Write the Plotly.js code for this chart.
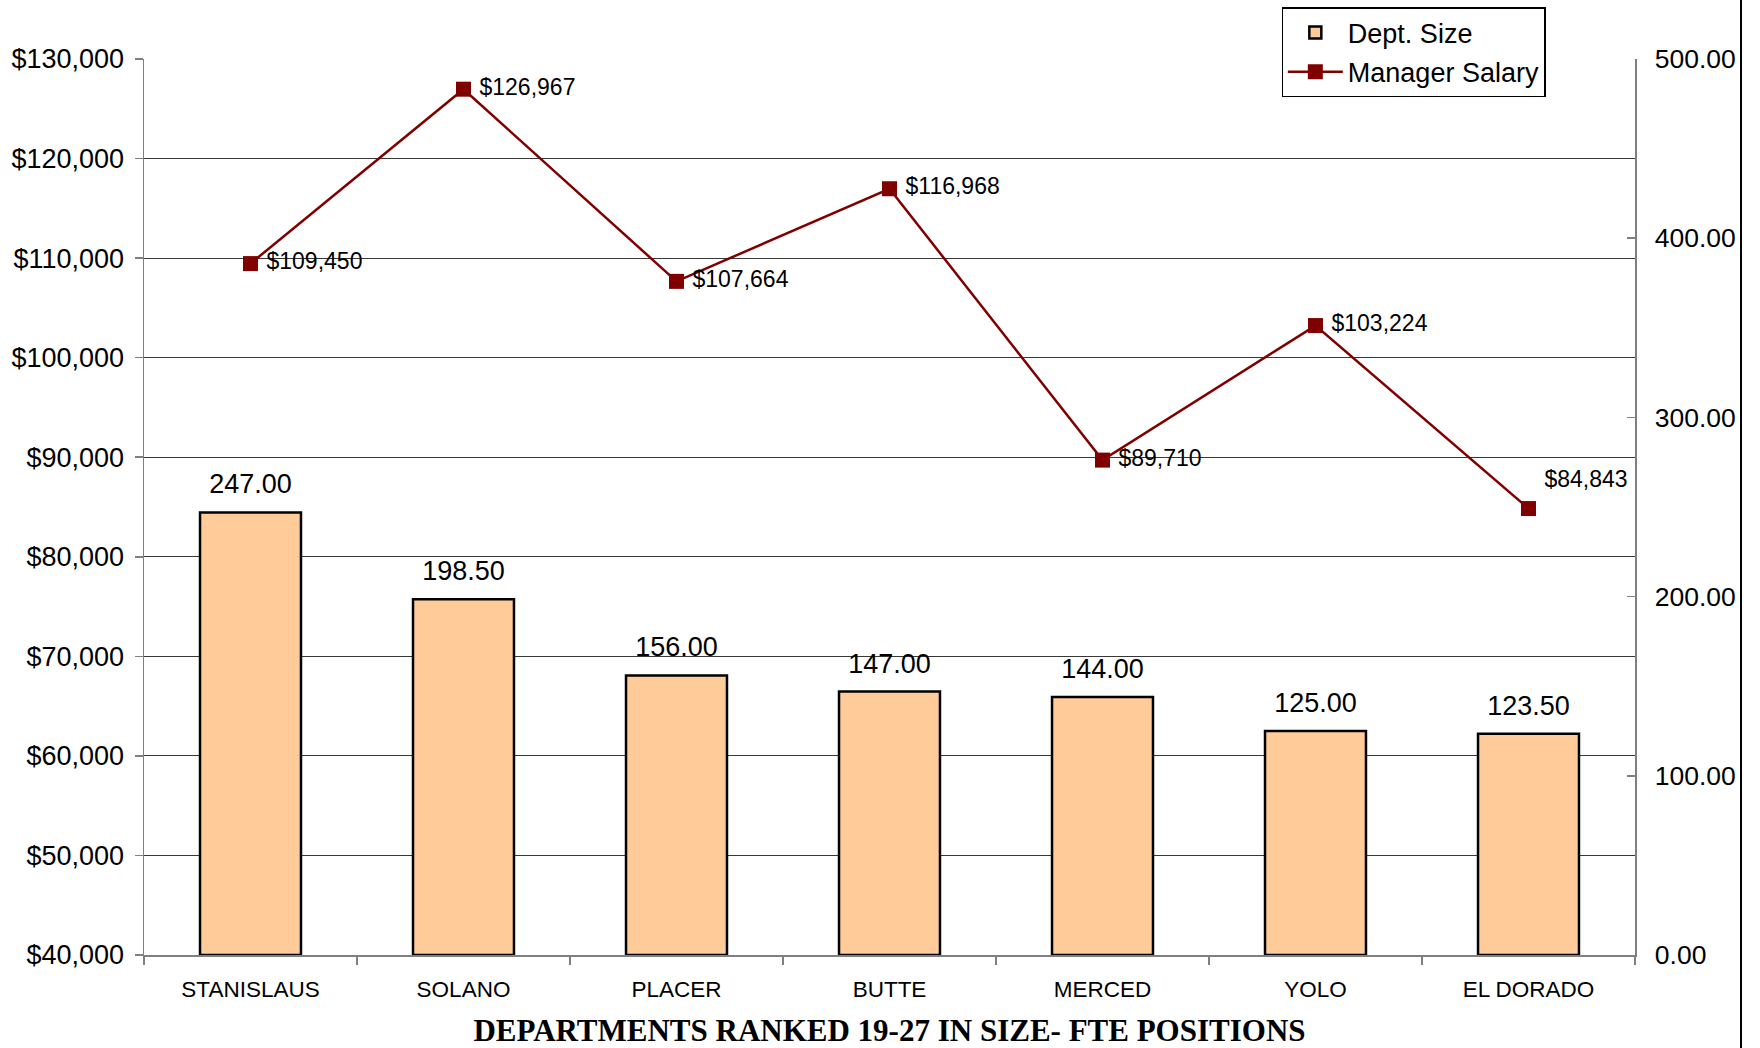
<!DOCTYPE html>
<html>
<head>
<meta charset="utf-8">
<script src="https://cdn.plot.ly/plotly-3.0.1.min.js"></script>
<style>html,body{margin:0;padding:0;background:#fff;}#chart{width:1760px;height:1048px;}</style>
</head>
<body>
<div id="chart"></div>
<script>
const categories = ["STANISLAUS", "SOLANO", "PLACER", "BUTTE", "MERCED", "YOLO", "EL DORADO"];
const deptSize = [247.00, 198.50, 156.00, 147.00, 144.00, 125.00, 123.50];
const managerSalary = [109450, 126967, 107664, 116968, 89710, 103224, 84843];
const salaryLabels = ["$109,450", "$126,967", "$107,664", "$116,968", "$89,710", "$103,224", "$84,843"];
const salaryTextPos = ["middle right", "middle right", "middle right", "middle right", "middle right", "middle right", "top right"];
const sizeLabels = deptSize.map(v => v.toFixed(2));

const font = "Liberation Sans, Arial, sans-serif";

const traces = [
  {
    type: "bar",
    name: "Dept. Size",
    legendgroup: "a",
    x: categories,
    y: deptSize,
    yaxis: "y2",
    marker: {color: "#FFCC99", line: {color: "#000", width: 2.5}},
    hoverinfo: "x+y"
  },
  {
    type: "scatter",
    mode: "markers+text",
    showlegend: false,
    x: categories,
    y: deptSize,
    yaxis: "y2",
    text: sizeLabels,
    textposition: "top center",
    textfont: {family: font, size: 27, color: "#000"},
    cliponaxis: false,
    marker: {color: "rgba(0,0,0,0)", size: 18},
    hoverinfo: "skip"
  },
  {
    type: "scatter",
    mode: "lines+markers",
    name: "Manager Salary",
    legendgroup: "b",
    x: categories,
    y: managerSalary,
    yaxis: "y",
    cliponaxis: false,
    line: {color: "#800000", width: 2.5},
    marker: {color: "#800000", symbol: "square", size: 15}
  },
  {
    type: "scatter",
    mode: "markers+text",
    showlegend: false,
    x: categories,
    y: managerSalary,
    yaxis: "y",
    text: salaryLabels,
    textposition: salaryTextPos,
    textfont: {family: font, size: 23, color: "#000"},
    cliponaxis: false,
    marker: {color: "rgba(0,0,0,0)", size: 24},
    hoverinfo: "skip"
  }
];

const layout = {
  width: 1760,
  height: 1048,
  paper_bgcolor: "#fff",
  plot_bgcolor: "#fff",
  margin: {l: 144, r: 125, t: 59, b: 93, pad: 0, autoexpand: false},
  font: {family: font, color: "#000"},
  bargap: 0.526,
  showlegend: true,
  legend: {
    x: 0.763, y: 1.0577, xanchor: "left", yanchor: "top",
    bgcolor: "#fff", bordercolor: "#000", borderwidth: 1.2,
    font: {family: font, size: 27, color: "#000"},
    traceorder: "grouped", tracegroupgap: 1,
    itemwidth: 55
  },
  xaxis: {
    type: "category",
    showgrid: false,
    showline: true, linecolor: "#808080", linewidth: 1.5,
    ticks: "outside", tickson: "boundaries", ticklen: 8, tickcolor: "#808080", tickwidth: 1.5,
    tickfont: {family: font, size: 22.5, color: "#000"},
    ticklabelstandoff: 13,
    title: {
      text: "<b>DEPARTMENTS RANKED 19-27 IN SIZE- FTE POSITIONS</b>",
      font: {family: "Liberation Serif, Times New Roman, serif", size: 31, color: "#000"},
      standoff: 30
    },
    zeroline: false
  },
  yaxis: {
    range: [40000, 130000],
    dtick: 10000,
    tick0: 40000,
    tickprefix: "$",
    tickformat: ",d",
    showgrid: true, gridcolor: "#383838", gridwidth: 1,
    showline: true, linecolor: "#808080", linewidth: 1.5,
    ticks: "outside", ticklen: 8, tickcolor: "#808080", tickwidth: 1.5,
    tickfont: {family: font, size: 27, color: "#000"},
    ticklabelstandoff: 5,
    zeroline: false
  },
  yaxis2: {
    overlaying: "y",
    side: "right",
    range: [0, 500],
    dtick: 100,
    tickformat: ".2f",
    showgrid: false,
    showline: true, linecolor: "#808080", linewidth: 1.5,
    ticks: "inside", ticklen: 8, tickcolor: "#808080", tickwidth: 1.5,
    tickfont: {family: font, size: 26.5, color: "#000"},
    ticklabelstandoff: 13,
    zeroline: false
  },
  shapes: [
    {type: "line", xref: "paper", yref: "paper", x0: 1.0711, x1: 1.0711, y0: -0.11, y1: 1.07,
     line: {color: "#000", width: 2}}
  ]
};

Plotly.newPlot("chart", traces, layout, {displayModeBar: false, staticPlot: true});
</script>
</body>
</html>
